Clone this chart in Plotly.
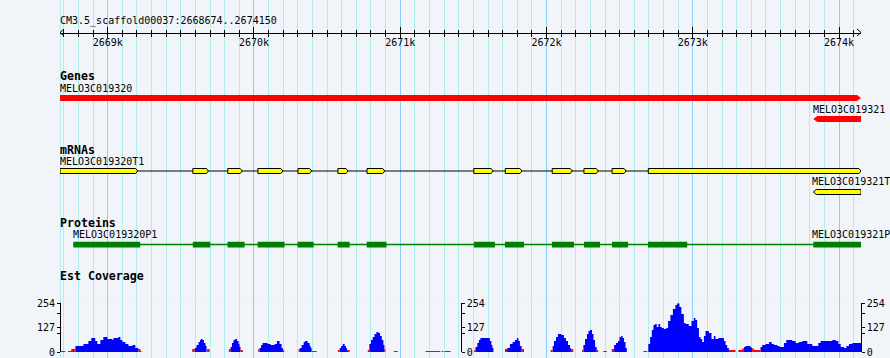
import plotly.graph_objects as go

# ---------------- data ----------------
VIEW_START = 2668674
VIEW_END = 2674150
SEQ_NAME = "CM3.5_scaffold00037"

ruler_tick_pos = [2669000, 2670000, 2671000, 2672000, 2673000, 2674000]
ruler_tick_labels = ["2669k", "2670k", "2671k", "2672k", "2673k", "2674k"]

gene_names = ["MELO3C019320", "MELO3C019321"]
gene_start = [2668674, 2673824]
gene_end = [2674150, 2674150]
gene_strand = [1, -1]

# second label is shown cut at the image edge in the reference
mrna_names = ["MELO3C019320T1", "MELO3C019321T"]
mrna_start = [2668674, 2673824]
mrna_end = [2674150, 2674150]
mrna_strand = [1, -1]
mrna1_exon_start = [2668674, 2669582, 2669821, 2670027, 2670301, 2670574, 2670773,
                    2671503, 2671718, 2672039, 2672256, 2672448, 2672696]
mrna1_exon_end = [2669205, 2669689, 2669920, 2670198, 2670394, 2670643, 2670894,
                  2671635, 2671832, 2672176, 2672354, 2672544, 2674150]
mrna2_exon_start = [2673824]
mrna2_exon_end = [2674150]

protein_names = ["MELO3C019320P1", "MELO3C019321P"]
protein_start = [2668765, 2673824]
protein_end = [2674150, 2674150]
prot1_cds_start = [2668765, 2669582, 2669819, 2670025, 2670298, 2670572, 2670771,
                   2671503, 2671716, 2672037, 2672256, 2672448, 2672694]
prot1_cds_end = [2669222, 2669701, 2669936, 2670209, 2670408, 2670654, 2670906,
                 2671647, 2671846, 2672188, 2672366, 2672558, 2672962]
prot2_cds_start = [2673824]
prot2_cds_end = [2674150]

# EST coverage, positions relative to VIEW_START (bp), value (reads)
cov_start_rel = [2, 55, 77, 105, 160, 194, 214, 241, 255, 276, 296, 324, 358, 365, 399, 413, 426, 447, 468, 495, 515, 536, 550,
                 904, 921, 933, 947, 957, 964, 974, 984, 995, 1002, 1006,
                 1154, 1166, 1176, 1186, 1197, 1210, 1221, 1227, 1234,
                 1355, 1364, 1375, 1385, 1419, 1440, 1467, 1483, 1501, 1515, 1524,
                 1631, 1640, 1652, 1666, 1676, 1693, 1707, 1714, 1720,
                 1900, 1912, 1922, 1933, 1946, 1955, 1962,
                 2104, 2115, 2126, 2138, 2150, 2163, 2177, 2188, 2200, 2211, 2218,
                 2282, 2499, 2610, 2629,
                 2831, 2840, 2853, 2864, 2874, 2939, 2949, 2956,
                 3042, 3057, 3076, 3094, 3110, 3124, 3134, 3144, 3156,
                 3354, 3368, 3377, 3391, 3404, 3428, 3445, 3459, 3473, 3487, 3493,
                 3569, 3578, 3589, 3603, 3613, 3623, 3637, 3647, 3658, 3669,
                 3714,
                 3772, 3788, 3801, 3815, 3825, 3836, 3846, 3856, 3866,
                 3988,
                 4022, 4034, 4046, 4057, 4068, 4080, 4091, 4103, 4114, 4128, 4144, 4157, 4173, 4190, 4207, 4219,
                 4235, 4248, 4265, 4276, 4299, 4317, 4333, 4344, 4356, 4368, 4379, 4390, 4402, 4413, 4436, 4454,
                 4470, 4481, 4500, 4539, 4550, 4561, 4573, 4637, 4664, 4676, 4687, 4721, 4732, 4744, 4789, 4801,
                 4823, 4847, 4865, 4881, 4904, 4919, 4949, 4965, 5006, 5029, 5052, 5075, 5109, 5143, 5184, 5200,
                 5280, 5303, 5321, 5337, 5360, 5376, 5394, 5417]
cov_end_rel = [36, 77, 105, 160, 194, 214, 241, 255, 276, 296, 324, 358, 365, 399, 413, 426, 447, 468, 495, 515, 536, 550, 557,
               921, 933, 947, 957, 964, 974, 984, 995, 1002, 1006, 1022,
               1166, 1176, 1186, 1197, 1210, 1221, 1227, 1234, 1250,
               1364, 1375, 1385, 1419, 1440, 1467, 1483, 1501, 1515, 1524, 1533,
               1640, 1652, 1666, 1676, 1693, 1707, 1714, 1720, 1755,
               1912, 1922, 1933, 1946, 1955, 1962, 1980,
               2115, 2126, 2138, 2150, 2163, 2177, 2188, 2200, 2211, 2218, 2225,
               2309, 2601, 2622, 2670,
               2840, 2853, 2864, 2874, 2939, 2949, 2956, 2963,
               3057, 3076, 3094, 3110, 3124, 3134, 3144, 3156, 3172,
               3368, 3377, 3391, 3404, 3428, 3445, 3459, 3473, 3487, 3493, 3509,
               3578, 3589, 3603, 3613, 3623, 3637, 3647, 3658, 3669, 3680,
               3738,
               3788, 3801, 3815, 3825, 3836, 3846, 3856, 3866, 3875,
               4015,
               4034, 4046, 4057, 4068, 4080, 4091, 4103, 4114, 4128, 4144, 4157, 4173, 4190, 4207, 4219, 4235,
               4248, 4265, 4276, 4299, 4317, 4333, 4344, 4356, 4368, 4379, 4390, 4402, 4413, 4436, 4454, 4470,
               4481, 4500, 4539, 4550, 4561, 4573, 4618, 4664, 4676, 4687, 4721, 4732, 4744, 4789, 4801, 4823,
               4847, 4865, 4881, 4904, 4919, 4949, 4965, 5006, 5029, 5052, 5075, 5109, 5143, 5184, 5200, 5280,
               5303, 5321, 5337, 5360, 5376, 5394, 5417, 5476]
cov_value = [5, 5, 16, 31, 42, 57, 73, 57, 42, 63, 78, 68, 63, 73, 78, 63, 52, 42, 31, 36, 21, 16, 5,
             16, 21, 36, 52, 63, 68, 63, 47, 31, 21, 16,
             16, 26, 47, 63, 68, 57, 42, 26, 10,
             16, 21, 36, 47, 42, 36, 42, 57, 42, 21, 10,
             16, 21, 36, 52, 57, 47, 31, 21, 5,
             10, 21, 31, 42, 31, 21, 10,
             10, 42, 63, 78, 94, 104, 99, 83, 63, 36, 16,
             5, 5, 5, 5,
             10, 26, 47, 63, 73, 57, 36, 21,
             16, 21, 42, 52, 63, 73, 57, 31, 16,
             10, 31, 57, 78, 94, 89, 73, 57, 36, 21, 16,
             10, 36, 68, 94, 109, 115, 94, 63, 26, 10,
             5,
             16, 36, 47, 57, 78, 83, 73, 52, 21,
             5,
             42, 78, 115, 141, 146, 130, 146, 130, 125, 120, 125, 162, 193, 224, 245, 254,
             235, 198, 151, 146, 136, 162, 177, 167, 125, 78, 68, 52, 83, 109, 99, 68,
             83, 68, 73, 57, 36, 21, 10, 10, 18, 26, 31, 23, 18, 10, 26, 36,
             42, 52, 42, 36, 31, 26, 47, 63, 57, 47, 52, 57, 42, 31, 47, 57,
             63, 57, 42, 26, 21, 31, 42, 47]
COV_MAX = 254
COV_LOW = 20  # values below this are drawn red
cov_tick_vals = [0, 97, 127, 202, 254]
cov_tick_text = ["0", "", "127", "", "254"]
cov_grid_vals = [254, 202, 97, -3.5]

# ---------------- layout constants ----------------
W, H = 890, 358
X0_PX, X1_PX = 60, 861
BP_PER_PX = (VIEW_END - VIEW_START) / (X1_PX - X0_PX)
MONO = "DejaVu Sans Mono"
BG = "#F1F5FA"
MINOR_GRID = "#AFEEEE"
MAJOR_GRID = "#87CEFA"

RULER_Y = 32.5
TITLE_Y = 21
GENE_ROWS = [95, 116]
MRNA_ROWS = [168.5, 189.5]
PROT_ROW = 241.7
HEADERS = [("Genes", 76), ("mRNAs", 150), ("Proteins", 223.3), ("Est Coverage", 276.3)]
COV_BASE_PX, COV_TOP_PX = 352, 303.3


def py(p):
    return 1 - p / H


def arrow_box(s, e, top, bot, strand, tip_px):
    mid = (top + bot) / 2
    t = tip_px * BP_PER_PX
    if strand > 0:
        return [s, e - t, e, e - t, s, s, None], [top, top, mid, bot, bot, top, None]
    return [s, s + t, e, e, s + t, s, None], [mid, top, top, bot, bot, mid, None]


fig = go.Figure()

# mRNA intron line
fig.add_trace(go.Scatter(x=[mrna_start[0], mrna_end[0]], y=[MRNA_ROWS[0] + 2.5] * 2, mode="lines",
                         line=dict(color="black", width=1), hoverinfo="skip", showlegend=False))
# protein line
fig.add_trace(go.Scatter(x=[protein_start[0], protein_end[0]], y=[PROT_ROW + 2.8] * 2, mode="lines",
                         line=dict(color="#008000", width=1.5), hoverinfo="skip", showlegend=False))

# genes
gx, gy = [], []
for i in range(len(gene_names)):
    xs, ys = arrow_box(gene_start[i], gene_end[i], GENE_ROWS[i], GENE_ROWS[i] + 6, gene_strand[i], 4)
    gx += xs
    gy += ys
fig.add_trace(go.Scatter(x=gx, y=gy, mode="lines", fill="toself", fillcolor="#FF0000",
                         line=dict(width=0, color="#FF0000"), hoverinfo="skip", showlegend=False))

# mRNA exons
ex, ey = [], []
for s, e in zip(mrna1_exon_start, mrna1_exon_end):
    xs, ys = arrow_box(s, e, MRNA_ROWS[0], MRNA_ROWS[0] + 5, mrna_strand[0], 2)
    ex += xs
    ey += ys
for s, e in zip(mrna2_exon_start, mrna2_exon_end):
    xs, ys = arrow_box(s, e, MRNA_ROWS[1], MRNA_ROWS[1] + 5, mrna_strand[1], 3)
    ex += xs
    ey += ys
fig.add_trace(go.Scatter(x=ex, y=ey, mode="lines", fill="toself", fillcolor="#FFFF00",
                         line=dict(width=1, color="black"), hoverinfo="skip", showlegend=False))

# CDS boxes
cx, cy = [], []
for s, e in list(zip(prot1_cds_start, prot1_cds_end)) + list(zip(prot2_cds_start, prot2_cds_end)):
    cx += [s, e, e, s, s, None]
    cy += [PROT_ROW, PROT_ROW, PROT_ROW + 5.8, PROT_ROW + 5.8, PROT_ROW, None]
fig.add_trace(go.Scatter(x=cx, y=cy, mode="lines", fill="toself", fillcolor="#008000",
                         line=dict(width=0, color="#008000"), hoverinfo="skip", showlegend=False))

# coverage
cov_s = [VIEW_START + v for v in cov_start_rel]
cov_e = [VIEW_START + v for v in cov_end_rel]


def steps(keep):
    xs, ys = [], []
    for s, e, v in zip(cov_s, cov_e, cov_value):
        if keep(v):
            xs += [s, s, e, e]
            ys += [0, v, v, 0]
    return xs, ys


bx, by = steps(lambda v: v >= COV_LOW)
rx, ry = steps(lambda v: v < COV_LOW)
fig.add_trace(go.Scatter(x=bx, y=by, xaxis="x", yaxis="y3", mode="lines", fill="tozeroy",
                         fillcolor="#0000FF", line=dict(width=0, color="#0000FF"),
                         hoverinfo="skip", showlegend=False))
fig.add_trace(go.Scatter(x=rx, y=ry, xaxis="x", yaxis="y3", mode="lines", fill="tozeroy",
                         fillcolor="#FF0000", line=dict(width=0, color="#FF0000"),
                         hoverinfo="skip", showlegend=False))
# empty traces so overlay axes are drawn
fig.add_trace(go.Scatter(x=[], y=[], xaxis="x2", yaxis="y", showlegend=False, hoverinfo="skip"))
fig.add_trace(go.Scatter(x=[], y=[], xaxis="x", yaxis="y4", showlegend=False, hoverinfo="skip"))
fig.add_trace(go.Scatter(x=[], y=[], xaxis="x", yaxis="y5", showlegend=False, hoverinfo="skip"))

tickfont = dict(family=MONO, size=10, color="black")
xdom = [X0_PX / W, X1_PX / W]

cov_axis = dict(domain=[py(COV_BASE_PX), py(COV_TOP_PX)], range=[0, COV_MAX], anchor="free",
                showline=True, linecolor="black", linewidth=1, ticks="outside", ticklen=3,
                tickcolor="black", tickmode="array", tickvals=cov_tick_vals, ticktext=cov_tick_text,
                tickfont=tickfont, showgrid=False, zeroline=False, fixedrange=True, automargin=False)

fig.update_layout(
    width=W, height=H, margin=dict(l=0, r=0, t=0, b=0, pad=0, autoexpand=False),
    paper_bgcolor=BG, plot_bgcolor=BG, showlegend=False,
    xaxis=dict(domain=xdom, range=[VIEW_START, VIEW_END], anchor="free", position=py(RULER_Y),
               side="bottom", showline=True, linecolor="black", linewidth=1, automargin=False,
               tickmode="array", tickvals=ruler_tick_pos, ticktext=ruler_tick_labels,
               ticks="outside", ticklen=4, tickwidth=1, tickcolor="black", tickfont=tickfont,
               ticklabelstandoff=-4,
               showgrid=True, gridcolor=MAJOR_GRID, gridwidth=1, zeroline=False, fixedrange=True,
               minor=dict(tickmode="linear", tick0=0, dtick=100, ticks="outside", ticklen=3,
                          tickcolor="black", showgrid=True, gridcolor=MINOR_GRID, gridwidth=1)),
    xaxis2=dict(overlaying="x", range=[VIEW_START, VIEW_END], anchor="free", position=py(RULER_Y),
                side="top", showline=True, linecolor="black", linewidth=1, automargin=False,
                tickmode="array", tickvals=ruler_tick_pos, ticks="outside", ticklen=6, tickcolor="black",
                showticklabels=False, showgrid=False, zeroline=False, fixedrange=True,
                minor=dict(tickmode="linear", tick0=0, dtick=100, ticks="outside", ticklen=3,
                           tickcolor="black", showgrid=False)),
    yaxis=dict(domain=[0, 1], range=[H, 0], visible=False, fixedrange=True, automargin=False),
    yaxis3=dict(cov_axis, position=X0_PX / W, side="left"),
    yaxis4=dict(cov_axis, overlaying="y3", position=460.7 / W, side="right"),
    yaxis5=dict(cov_axis, overlaying="y3", position=860.7 / W, side="right"),
)

shapes = [dict(type="line", xref="paper", yref="paper", x0=60.5 / W, x1=60.5 / W, y0=0, y1=1,
               line=dict(color=MINOR_GRID, width=1), layer="below")]
for v in cov_grid_vals:
    shapes.append(dict(type="line", xref="paper", yref="y3", x0=X0_PX / W, x1=X1_PX / W, y0=v, y1=v,
                       line=dict(color=MINOR_GRID, width=1), layer="below"))
# ruler arrowheads
shapes.append(dict(type="path", xref="paper", yref="y",
                   path=f"M {64 / W},{RULER_Y - 3.5} L {X0_PX / W},{RULER_Y} L {64 / W},{RULER_Y + 3.5}",
                   line=dict(color="black", width=1)))
shapes.append(dict(type="path", xref="paper", yref="y",
                   path=f"M {(X1_PX - 4) / W},{RULER_Y - 3.5} L {X1_PX / W},{RULER_Y} L {(X1_PX - 4) / W},{RULER_Y + 3.5}",
                   line=dict(color="black", width=1)))
fig.update_layout(shapes=shapes)


def label(text, x, xref, y, bold=False, xanchor="left"):
    return dict(text=text, x=x, xref=xref, y=y, yref="y", xanchor=xanchor, yanchor="middle",
                showarrow=False, borderpad=0, borderwidth=0,
                font=dict(family=MONO, size=11.6 if bold else 10, color="black",
                          weight="bold" if bold else "normal"))


ann = [label(f"{SEQ_NAME}:{VIEW_START}..{VIEW_END}", X0_PX / W, "paper", TITLE_Y)]
for name, row in HEADERS:
    ann.append(label(name, X0_PX / W, "paper", row, bold=True))
for i, n in enumerate(gene_names):
    ann.append(label(n, max(gene_start[i], VIEW_START), "x", GENE_ROWS[i] - 7))
for i, n in enumerate(mrna_names):
    if i == 0:
        ann.append(label(n, max(mrna_start[i], VIEW_START), "x", MRNA_ROWS[i] - 6.8))
    else:
        ann.append(label(n, 1.0, "paper", MRNA_ROWS[i] - 7.8, xanchor="right"))
for i, n in enumerate(protein_names):
    if i == 0:
        ann.append(label(n, max(protein_start[i], VIEW_START), "x", PROT_ROW - 6.8))
    else:
        ann.append(label(n, 1.0, "paper", PROT_ROW - 6.8, xanchor="right"))
fig.update_layout(annotations=ann)

fig.write_html("out.html", config={"displayModeBar": False},
               post_script="document.body.style.margin='0';")
